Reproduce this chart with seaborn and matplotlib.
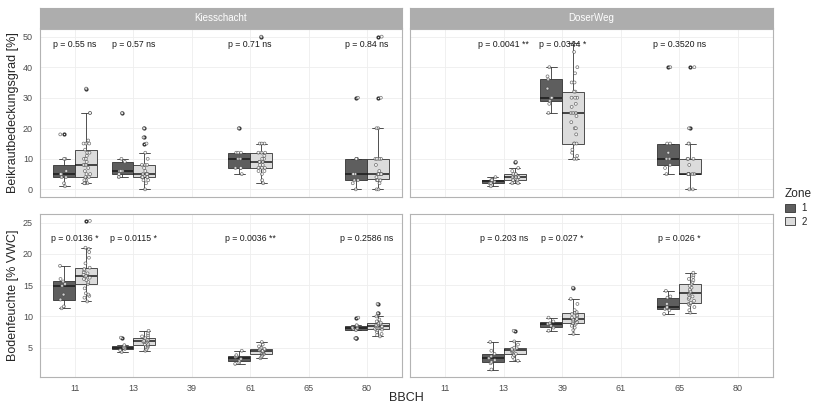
import numpy as np
import pandas as pd
import seaborn as sns
import matplotlib.pyplot as plt
from matplotlib.patches import Patch


#########################
# Data
#########################

bbch = ['11', '13', '39', '61', '65', '80']
zones = ['1', '2']

# Kiesschacht - Beikrautbedeckungsgrad [%]
kw_11_1 = [1, 2, 4, 4, 5, 5, 5, 6, 10, 10, 18]
kw_11_2 = [2, 2, 2, 2, 3, 3, 4, 4, 5, 5, 6, 7, 8, 8, 8, 9, 10, 10, 11, 12, 12, 13, 15, 15, 15, 16, 25, 25, 33]
kw_13_1 = [4, 5, 5, 6, 6, 6, 9, 10, 25]
kw_13_2 = [0, 2, 3, 3, 4, 4, 4, 4, 5, 5, 5, 5, 6, 7, 8, 8, 8, 10, 12, 15, 17, 20]
kw_61_1 = [5, 7, 7, 7, 10, 10, 12, 12, 12, 20]
kw_61_2 = [2, 3, 5, 6, 6, 7, 7, 7, 8, 8, 9, 9, 9, 10, 10, 11, 12, 12, 12, 15, 15, 15, 50]
kw_80_1 = [0, 2, 3, 3, 5, 5, 5, 10, 10, 10, 30]
kw_80_2 = [0, 0, 2, 3, 3, 3, 4, 5, 5, 5, 5, 5, 6, 8, 10, 10, 10, 10, 20, 20, 30, 50]

# DoserWeg - Beikrautbedeckungsgrad [%]
dw_13_1 = [1, 2, 2, 2.5, 3, 3, 3, 4]
dw_13_2 = [2, 2, 3, 3, 3, 4, 4, 4, 4, 5, 5, 5, 6, 7, 9]
dw_39_1 = [25, 28, 29, 30, 30, 33, 36, 37, 40]
dw_39_2 = [10, 10, 11, 12, 13, 15, 15, 15, 18, 20, 20, 22, 24, 25, 25, 25, 27, 28, 30, 30, 30, 32, 32, 35, 35, 38, 40, 45, 48]
dw_65_1 = [5, 7, 8, 10, 10, 12, 15, 15, 40]
dw_65_2 = [0, 0, 5, 5, 5, 5, 5, 5, 5, 8, 10, 10, 10, 15, 15, 20, 40]

# Kiesschacht - Bodenfeuchte [% VWC]
kb_11_1 = [11.3, 11.6, 12.7, 13.5, 14.9, 15.2, 15.6, 16.0, 18.1]
kb_11_2 = [12.4, 13.0, 13.3, 13.5, 13.7, 14.5, 15.2, 15.5, 15.8, 16.0, 16.2, 16.4, 16.5, 16.7, 16.9, 17.1, 17.4, 17.6, 17.8, 18.5, 19.4, 20.3, 20.8, 21.0, 25.3]
kb_13_1 = [4.3, 4.6, 4.8, 5.0, 5.0, 5.2, 5.4, 6.6]
kb_13_2 = [4.5, 4.7, 5.0, 5.2, 5.4, 5.5, 5.6, 5.8, 5.9, 6.0, 6.0, 6.1, 6.2, 6.3, 6.5, 6.7, 6.8, 7.0, 7.3, 7.7]
kb_61_1 = [2.4, 2.6, 2.9, 3.2, 3.5, 3.6, 3.8, 4.5]
kb_61_2 = [3.3, 3.5, 3.7, 3.9, 4.0, 4.1, 4.2, 4.3, 4.4, 4.5, 4.5, 4.6, 4.7, 4.8, 4.8, 5.0, 5.2, 5.5, 5.9]
kb_80_1 = [6.5, 6.5, 7.8, 8.0, 8.1, 8.2, 8.5, 8.6, 9.8]
kb_80_2 = [6.8, 7.0, 7.2, 7.5, 7.8, 7.9, 8.0, 8.1, 8.2, 8.3, 8.4, 8.4, 8.5, 8.6, 8.7, 8.8, 8.9, 9.0, 9.2, 9.5, 10.0, 10.5, 12.0]

# DoserWeg - Bodenfeuchte [% VWC]
db_13_1 = [1.5, 2.5, 2.7, 3.0, 3.3, 3.6, 4.0, 4.5, 5.9]
db_13_2 = [2.9, 3.2, 3.5, 3.8, 4.0, 4.3, 4.5, 4.5, 4.6, 4.7, 4.8, 4.9, 5.0, 5.5, 6.0, 7.7]
db_39_1 = [7.7, 8.2, 8.5, 8.8, 8.9, 9.2, 9.8]
db_39_2 = [7.2, 7.8, 8.2, 8.5, 8.8, 8.9, 9.0, 9.1, 9.3, 9.4, 9.5, 9.6, 9.6, 9.8, 10.0, 10.2, 10.4, 10.5, 10.6, 10.7, 11.0, 12.0, 12.8, 14.6]
db_65_1 = [10.4, 11.0, 11.2, 11.3, 11.5, 12.0, 13.0, 13.2, 14.1]
db_65_2 = [10.6, 11.0, 11.5, 11.8, 12.0, 12.1, 12.2, 12.5, 12.8, 13.0, 13.2, 13.5, 13.7, 13.9, 14.0, 14.3, 14.6, 14.9, 15.2, 15.5, 15.8, 16.0, 16.3, 16.6, 17.0]

# p-value annotations
p_kw_cats = ['11', '13', '61', '80']
p_kw = ['p = 0.55 ns', 'p = 0.57 ns', 'p = 0.71 ns', 'p = 0.84 ns']
p_dw_cats = ['13', '39', '65']
p_dw = ['p = 0.0041 **', 'p = 0.0344 *', 'p = 0.3520 ns']
p_kb_cats = ['11', '13', '61', '80']
p_kb = ['p = 0.0136 *', 'p = 0.0115 *', 'p = 0.0036 **', 'p = 0.2586 ns']
p_db_cats = ['13', '39', '65']
p_db = ['p = 0.203 ns', 'p = 0.027 *', 'p = 0.026 *']


#########################
# Functions
#########################

def make_df(groups):
    rows = []
    for b, z, vals in groups:
        for v in vals:
            rows.append({'BBCH': b, 'Zone': z, 'value': v})
    return pd.DataFrame(rows)


def draw_panel(ax, df, ylim, yticks, p_cats, p_labels, p_y, show_x, show_y):
    sns.boxplot(data=df, x='BBCH', y='value', hue='Zone', order=bbch, hue_order=zones,
                palette={'1': '#5e5e5e', '2': '#dcdcdc'}, width=0.75, gap=0,
                linewidth=0.6, linecolor='#333333', fliersize=2,
                flierprops=dict(marker='o', markerfacecolor='none', markeredgecolor='#333333'),
                medianprops=dict(color='#1a1a1a', linewidth=1.1),
                legend=False, ax=ax)
    sns.stripplot(data=df, x='BBCH', y='value', hue='Zone', order=bbch, hue_order=zones,
                  dodge=True, jitter=0.12, palette={'1': 'white', '2': 'white'},
                  size=2.1, linewidth=0.5, edgecolor='#444444', alpha=0.75,
                  legend=False, ax=ax)
    for c, lab in zip(p_cats, p_labels):
        ax.text(bbch.index(c), p_y, lab, ha='center', va='center', fontsize=6.3, color='#1a1a1a')
    ax.set_xlim(-0.6, 5.6)
    ax.set_ylim(*ylim)
    ax.set_yticks(yticks)
    ax.set_xlabel('')
    ax.set_ylabel('')
    ax.grid(True, color='#eeeeee', linewidth=0.6)
    ax.set_axisbelow(True)
    for s in ax.spines.values():
        s.set_visible(True)
        s.set_color('#b3b3b3')
        s.set_linewidth(0.8)
    ax.tick_params(length=3, width=0.6, color='#b3b3b3', labelsize=6.5, labelcolor='#4d4d4d', pad=2)
    if not show_x:
        ax.tick_params(axis='x', labelbottom=False)
    if not show_y:
        ax.tick_params(axis='y', labelleft=False)


#########################
# Plot
#########################

sns.set_style('white')
plt.rcParams['font.family'] = ['Liberation Sans', 'DejaVu Sans']

df_kw = make_df([('11', '1', kw_11_1), ('11', '2', kw_11_2), ('13', '1', kw_13_1), ('13', '2', kw_13_2),
                 ('61', '1', kw_61_1), ('61', '2', kw_61_2), ('80', '1', kw_80_1), ('80', '2', kw_80_2)])
df_dw = make_df([('13', '1', dw_13_1), ('13', '2', dw_13_2), ('39', '1', dw_39_1), ('39', '2', dw_39_2),
                 ('65', '1', dw_65_1), ('65', '2', dw_65_2)])
df_kb = make_df([('11', '1', kb_11_1), ('11', '2', kb_11_2), ('13', '1', kb_13_1), ('13', '2', kb_13_2),
                 ('61', '1', kb_61_1), ('61', '2', kb_61_2), ('80', '1', kb_80_1), ('80', '2', kb_80_2)])
df_db = make_df([('13', '1', db_13_1), ('13', '2', db_13_2), ('39', '1', db_39_1), ('39', '2', db_39_2),
                 ('65', '1', db_65_1), ('65', '2', db_65_2)])

W, H = 817, 405
fig = plt.figure(figsize=(W / 100, H / 100), dpi=100)

def box(x0, y0, x1, y1):
    # pixel box (top-left origin) to figure fraction
    return [x0 / W, 1 - y1 / H, (x1 - x0) / W, (y1 - y0) / H]

ax_kw = fig.add_axes(box(40, 29, 402, 197))
ax_dw = fig.add_axes(box(410, 29, 773, 197))
ax_kb = fig.add_axes(box(40, 214, 402, 377))
ax_db = fig.add_axes(box(410, 214, 773, 377))

draw_panel(ax_kw, df_kw, (-2.5, 52.5), [0, 10, 20, 30, 40, 50], p_kw_cats, p_kw, 47.5, False, True)
draw_panel(ax_dw, df_dw, (-2.5, 52.5), [0, 10, 20, 30, 40, 50], p_dw_cats, p_dw, 47.5, False, False)
draw_panel(ax_kb, df_kb, (0.3, 26.4), [5, 10, 15, 20, 25], p_kb_cats, p_kb, 22.4, True, True)
draw_panel(ax_db, df_db, (0.3, 26.4), [5, 10, 15, 20, 25], p_db_cats, p_db, 22.4, True, False)

# facet strips
for (x0, x1), title in zip([(40, 402), (410, 773)], ['Kiesschacht', 'DoserWeg']):
    sax = fig.add_axes(box(x0, 8, x1, 28))
    sax.set_facecolor('#adadad')
    sax.set_xticks([])
    sax.set_yticks([])
    for s in sax.spines.values():
        s.set_color('#adadad')
    sax.text(0.5, 0.5, title, ha='center', va='center', color='white', fontsize=7, transform=sax.transAxes)

# axis titles
fig.text(13 / W, 1 - 113 / H, 'Beikrautbedeckungsgrad [%]', rotation=90, ha='center', va='center', fontsize=9)
fig.text(13 / W, 1 - 295 / H, 'Bodenfeuchte [% VWC]', rotation=90, ha='center', va='center', fontsize=9)
fig.text(406 / W, 1 - 398 / H, 'BBCH', ha='center', va='center', fontsize=9)

# legend
handles = [Patch(facecolor='#5e5e5e', edgecolor='#333333', linewidth=0.6, label='1'),
           Patch(facecolor='#dcdcdc', edgecolor='#333333', linewidth=0.6, label='2')]
leg = fig.legend(handles=handles, title='Zone', loc='upper left', bbox_to_anchor=(778 / W, 1 - 181 / H),
                 frameon=False, fontsize=7, title_fontsize=8.5, handlelength=1.0, handleheight=0.9,
                 handletextpad=0.7, labelspacing=0.35, borderpad=0.2)
leg._legend_box.align = 'left'

plt.savefig('out.png', dpi=100)
